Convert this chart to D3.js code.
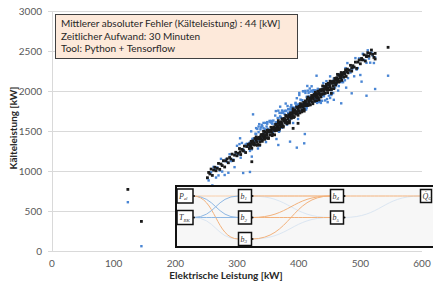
<!DOCTYPE html>
<html>
<head>
<meta charset="utf-8">
<script src="https://cdn.jsdelivr.net/npm/d3@7"></script>
<style>
	html, body { margin: 0; padding: 0; background: #fff; }
	svg { display: block; font-family: Lato, "Open Sans", sans-serif; }
</style>
</head>
<body>
<div id="chart"></div>
<script>
// elektrische leistung [kW], one entry per time step
var elLeistung = [
	252,254,256,258,260,262,264,266,268,270,
	272,274,276,278,280,282,284,286,288,290,
	292,294,296,298,300,302,304,306,308,310,
	312,314,316,318,
	320,321,322,323,324,325,326,327,328,329,
	330,331,332,333,334,335,336,337,338,339,
	340,341,342,343,344,345,346,347,348,349,
	350,351,352,353,354,355,356,357,358,359,
	360,361,362,363,364,365,366,367,368,369,
	370,371,372,373,374,375,376,377,378,379,
	380,381,382,383,384,385,386,387,388,389,
	390,391,392,393,394,395,396,397,398,399,
	400,401,402,403,404,405,406,407,408,409,
	410,411,412,413,414,415,416,417,418,419,
	420,421,422,423,424,425,426,427,428,429,
	430,431,432,433,434,435,436,437,438,439,
	440,441,442,443,444,445,446,447,448,449,
	450,451,452,453,454,455,456,457,458,459,
	460,461,462,463,464,465,466,467,468,469,
	470,471,472,473,474,475,476,477,478,479,
	480,
	482,484,486,488,490,492,494,496,498,500,
	502,504,506,508,510,512,514,516,518,520,
	522,524,
	123,145,545,502,486,469,429,370,326,364,
	386,397,409,367,410,305,310,321,510,524,
	391,399,324,453,
	331,333,335,337,339,341,343,345,347,349,
	351,353,355,357,359,361,363,365,367,369,
	371,373,375,377,379,381,383,385,387,389,
	391,393,395,397,399,401,403,405,407,409,
	411,413,415,417,419,421,423,425,427,429,
	431,433,435,437,439,441,443,445,447,449,
	451,453,455,457,459,461,463,465,467,469
];

// gemessene kälteleistung [kW] (black)
var kaelteMessung = [
	916,982,963,1024,945,1011,1047,1003,1034,1095,
	1021,1087,1068,1129,1050,1126,1152,1103,1169,1150,
	1211,1132,1198,1234,1190,1221,1281,1206,1271,1251,
	1311,1231,1306,1331,
	1281,1341,1316,1371,1286,1346,1376,1326,1351,1406,
	1326,1386,1361,1416,1331,1401,1421,1366,1426,1401,
	1456,1371,1431,1461,1411,1436,1491,1411,1471,1446,
	1501,1416,1486,1506,1451,1511,1486,1542,1458,1520,
	1551,1502,1528,1584,1506,1567,1543,1599,1515,1586,
	1608,1554,1615,1591,1647,1564,1625,1656,1607,1633,
	1690,1611,1672,1648,1704,1621,1692,1713,1659,1720,
	1696,1753,1669,1730,1761,1712,1739,1795,1716,1777,
	1753,1810,1726,1797,1818,1764,1825,1802,1858,1774,
	1835,1866,1817,1842,1898,1819,1880,1856,1911,1827,
	1898,1919,1865,1926,1901,1957,1873,1934,1965,1915,
	1941,1997,1918,1979,1954,2010,1926,1997,2018,1963,
	2024,2000,2056,1972,2033,2063,2014,2040,2096,2017,
	2077,2053,2109,2025,2096,2118,2064,2125,2102,2158,
	2074,2136,2167,2118,2145,2201,2122,2183,2160,2216,
	2133,2204,2225,2172,2233,2209,2266,2182,2243,2274,
	2226,
	2259,2321,2249,2316,2299,2361,2283,2361,2388,2340,
	2407,2390,2452,2374,2442,2479,2436,2469,2512,2458,
	2420,2470,
	770,370,2546,2390,2290,2180,1930,1575,1345,1540,
	1680,1740,1815,1560,1830,1240,1255,1310,2430,2400,
	1533,1596,1116,1971,
	1426,1321,1406,1326,1451,1391,1496,1396,1451,1511,
	1406,1506,1546,1442,1530,1452,1579,1522,1629,1531,
	1589,1651,1549,1651,1693,1591,1678,1601,1728,1670,
	1778,1680,1737,1800,1697,1800,1842,1739,1827,1749,
	1876,1817,1924,1826,1882,1944,1841,1942,1984,1880,
	1967,1889,2015,1957,2063,1965,2022,2083,1980,2082,
	2123,2020,2108,2030,2158,2101,2208,2111,2168,2231
];

// prognose des netzes [kW] (blue)
var kaeltePrognose = [
	911,882,983,984,820,1051,1022,918,1044,945,
	1006,1152,993,1124,950,1146,1112,978,1209,1125,
	1126,1142,1048,1219,1315,1206,1336,1166,1351,1271,
	1246,1331,1341,1306,
	1351,1251,1361,1496,1271,1401,1336,1406,1371,1341,
	1466,1461,1376,1526,1281,1486,1586,1391,1521,1401,
	1576,1431,1406,1601,1486,1451,1601,1361,1556,1611,
	1526,1511,1486,1626,1511,1486,1626,1617,1473,1630,
	1501,1587,1693,1609,1601,1567,1663,1659,1490,1726,
	1683,1569,1725,1541,1732,1729,1650,1751,1607,1753,
	1750,1586,1812,1723,1719,1731,1642,1798,1824,1745,
	1791,1753,1789,1790,1736,1852,1814,1810,1826,1727,
	1838,1975,1751,1892,1818,1884,1885,1777,1998,1849,
	1850,1976,1767,1927,2063,1844,1975,1856,2031,1887,
	1873,2059,1940,1941,2011,1907,1868,2009,1900,1920,
	1851,2027,1888,1864,2004,1995,1851,2017,1878,1958,
	2099,1935,2061,1882,2063,2033,1899,2090,2081,1942,
	2097,1913,2104,2100,2031,2123,1974,2155,2072,2043,
	2124,2121,2092,2138,2005,2196,2197,2118,2165,2126,
	2163,2174,2110,2222,2218,2134,2286,2042,2238,2349,
	2161,
	2264,2231,2279,2286,2184,2411,2268,2286,2408,2200,
	2402,2465,2387,2379,2352,2509,2406,2354,2480,2443,
	2350,2420,
	610,60,2191,2117,1971,1846,2191,1804,1708,1400,
	1367,1292,1346,1325,1462,1409,975,988,1941,2025,
	1600,1650,1180,2010,
	1536,1381,1556,1316,1546,1561,1536,1521,1421,1591,
	1511,1616,1606,1592,1520,1547,1749,1562,1754,1501,
	1669,1756,1659,1711,1843,1581,1773,1771,1768,1795,
	1748,1760,1842,1910,1757,1950,1832,1834,1997,1789,
	2001,1787,2004,1931,1992,2004,1991,1932,1969,1940,
	1897,1904,1875,1927,2058,1965,1972,2123,1860,2067,
	2183,1950,2123,1890,2128,2096,2208,2061,2208,2111
];

var xTicks = [0, 100, 200, 300, 400, 500, 600];
var yTicks = [0, 500, 1000, 1500, 2000, 2500, 3000];

var infoLines = [
	'Mittlerer absoluter Fehler (Kälteleistung) : 44 [kW]',
	'Zeitlicher Aufwand: 30 Minuten',
	'Tool: Python + Tensorflow'
];

// netz-skizze: knoten (spalte, zeile) und verbindungen
var netzKnoten = [
	{ id: 'pel', base: 'P', sub: 'el', col: 0, row: 0 },
	{ id: 'trk', base: 'T', sub: 'RK', col: 0, row: 1 },
	{ id: 'b1', base: 'b', sub: '1', col: 1, row: 0 },
	{ id: 'b2', base: 'b', sub: '2', col: 1, row: 1 },
	{ id: 'b3', base: 'b', sub: '3', col: 1, row: 2 },
	{ id: 'b4', base: 'b', sub: '4', col: 2, row: 0 },
	{ id: 'b5', base: 'b', sub: '5', col: 2, row: 1 },
	{ id: 'qc', base: 'Q\u0307', sub: 'C', col: 3, row: 0 }
];
var netzKanten = [
	['pel', 'b1', 'o2'], ['pel', 'b2', 'b'], ['pel', 'b3', 'o'],
	['trk', 'b1', 'b'], ['trk', 'b2', 'b'], ['trk', 'b3', 'b2'],
	['pel', 'b4', 'o2'], ['trk', 'b5', 'b2'],
	['b1', 'b4', 'o'], ['b1', 'b5', 'b2'],
	['b2', 'b4', 'o'], ['b2', 'b5', 'o'],
	['b3', 'b4', 'o'], ['b3', 'b5', 'b2'],
	['b4', 'qc', 'o'], ['b5', 'qc', 'b2']
];

(function () {

	"use strict";

	var width = 433,
		height = 285;

	var svg = d3.select('#chart').append('svg')
		.attr('width', width)
		.attr('height', height);

	var x = d3.scaleLinear().domain([0, 600]).range([52, 422]);
	var y = d3.scaleLinear().domain([0, 3000]).range([251, 11]);

	//grid lines
	svg.append('g').selectAll('line')
		.data(yTicks)
		.enter().append('line')
		.attr('x1', x(0)).attr('x2', x(600))
		.attr('y1', function (d) { return Math.round(y(d)) + 0.5; })
		.attr('y2', function (d) { return Math.round(y(d)) + 0.5; })
		.attr('stroke', '#d9d9d9')
		.attr('stroke-width', 1.2);

	//y axis line + small ticks
	svg.append('line')
		.attr('x1', x(0) + 0.5).attr('x2', x(0) + 0.5)
		.attr('y1', y(3000)).attr('y2', y(0))
		.attr('stroke', '#d9d9d9');

	svg.append('g').selectAll('line')
		.data(yTicks)
		.enter().append('line')
		.attr('x1', x(0) - 4).attr('x2', x(0))
		.attr('y1', function (d) { return Math.round(y(d)) + 0.5; })
		.attr('y2', function (d) { return Math.round(y(d)) + 0.5; })
		.attr('stroke', '#d9d9d9');

	//tick labels
	svg.append('g').selectAll('text')
		.data(yTicks)
		.enter().append('text')
		.attr('x', 42)
		.attr('y', function (d) { return y(d) + 3.5; })
		.attr('text-anchor', 'end')
		.attr('font-size', '10px')
		.attr('fill', '#595959')
		.text(function (d) { return d; });

	svg.append('g').selectAll('text')
		.data(xTicks)
		.enter().append('text')
		.attr('x', function (d) { return x(d); })
		.attr('y', 267)
		.attr('text-anchor', 'middle')
		.attr('font-size', '10px')
		.attr('fill', '#595959')
		.text(function (d) { return d; });

	//axis titles
	svg.append('text')
		.attr('x', 226).attr('y', 279)
		.attr('text-anchor', 'middle')
		.attr('font-size', '10px')
		.attr('font-weight', 'bold')
		.attr('fill', '#262626')
		.text('Elektrische Leistung [kW]');

	svg.append('text')
		.attr('transform', 'translate(17,128) rotate(-90)')
		.attr('text-anchor', 'middle')
		.attr('font-size', '10px')
		.attr('font-weight', 'bold')
		.attr('fill', '#262626')
		.text('Kälteleistung [kW]');

	//points: prognose first, messung on top
	var idx = d3.range(elLeistung.length);

	svg.append('g').selectAll('rect')
		.data(idx)
		.enter().append('rect')
		.attr('x', function (i) { return x(elLeistung[i]) - 1.2; })
		.attr('y', function (i) { return y(kaeltePrognose[i]) - 1.2; })
		.attr('width', 2.4).attr('height', 2.4)
		.attr('fill', '#4a86d4');

	svg.append('g').selectAll('rect')
		.data(idx)
		.enter().append('rect')
		.attr('x', function (i) { return x(elLeistung[i]) - 1.4; })
		.attr('y', function (i) { return y(kaelteMessung[i]) - 1.4; })
		.attr('width', 2.8).attr('height', 2.8)
		.attr('fill', '#1a1a1a');

	//info box
	var info = svg.append('g');
	info.append('rect')
		.attr('x', 55.5).attr('y', 14.5)
		.attr('width', 242).attr('height', 44)
		.attr('fill', '#fde9da')
		.attr('stroke', '#404040');

	info.selectAll('text')
		.data(infoLines)
		.enter().append('text')
		.attr('x', 61)
		.attr('y', function (d, i) { return 27 + i * 12.7; })
		.attr('font-size', '10px')
		.attr('fill', '#262626')
		.text(function (d) { return d; });

	//network sketch
	var net = svg.append('g');
	net.append('rect')
		.attr('x', 176).attr('y', 186)
		.attr('width', 270).attr('height', 61)
		.attr('fill', '#f7f7f7')
		.attr('stroke', '#111')
		.attr('stroke-width', 2);

	var colX = d3.scaleOrdinal().domain([0, 1, 2, 3]).range([185, 245, 337, 426]);
	var rowY = d3.scaleOrdinal().domain([0, 1, 2]).range([196, 217.5, 239]);
	var byId = {};
	netzKnoten.forEach(function (n) {
		n.w = n.col === 0 ? 16 : (n.col === 3 ? 11 : 13);
		n.h = n.col === 0 ? 14 : 13;
		n.cx = colX(n.col);
		n.cy = rowY(n.row);
		byId[n.id] = n;
	});

	var farbe = { o: '#f3b27c', o2: '#f8dcc4', b: '#8fb8e4', b2: '#dbe6f2' };
	var link = d3.linkHorizontal()
		.x(function (p) { return p[0]; })
		.y(function (p) { return p[1]; });

	net.append('g').selectAll('path')
		.data(netzKanten.slice().sort(function (a, b) {
			return (a[2].length > 1 ? 0 : 1) - (b[2].length > 1 ? 0 : 1);
		}))
		.enter().append('path')
		.attr('d', function (k) {
			var s = byId[k[0]], t = byId[k[1]];
			return link({ source: [s.cx + s.w / 2, s.cy], target: [t.cx - t.w / 2, t.cy] });
		})
		.attr('fill', 'none')
		.attr('stroke', function (k) { return farbe[k[2]]; })
		.attr('stroke-width', 1);

	var knoten = net.append('g').selectAll('g')
		.data(netzKnoten)
		.enter().append('g')
		.attr('transform', function (n) { return 'translate(' + n.cx + ',' + n.cy + ')'; });

	knoten.append('rect')
		.attr('x', function (n) { return -n.w / 2; })
		.attr('y', function (n) { return -n.h / 2; })
		.attr('width', function (n) { return n.w; })
		.attr('height', function (n) { return n.h; })
		.attr('fill', '#fff')
		.attr('stroke', '#111')
		.attr('stroke-width', 1.5);

	knoten.filter(function (n) { return n.col < 3; }).append('circle')
		.attr('cx', function (n) { return n.w / 2 + 1; })
		.attr('cy', 0)
		.attr('r', 1)
		.attr('fill', '#111');

	var lbl = knoten.append('text')
		.attr('x', function (n) { return -n.w / 2 + 2; })
		.attr('y', 2.5)
		.attr('font-family', '"Liberation Serif", serif')
		.attr('font-style', 'italic')
		.attr('font-size', '8px')
		.attr('fill', '#333');
	lbl.append('tspan').text(function (n) { return n.base; });
	lbl.append('tspan')
		.attr('dy', 1.5)
		.attr('font-size', '5px')
		.text(function (n) { return n.sub; });

}).call(this);
</script>
</body>
</html>
